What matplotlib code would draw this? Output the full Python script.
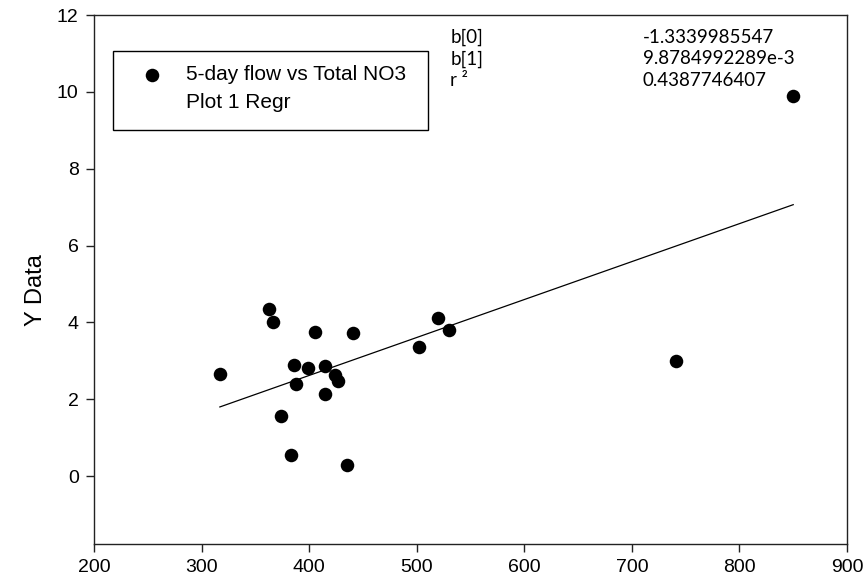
import numpy as np
import matplotlib
matplotlib.use("Agg")
import matplotlib.pyplot as plt
from matplotlib.patches import Rectangle

# 5-day flow (x) vs Total NO3 (y)
flow = [317, 363, 366, 405, 441, 386, 399, 415, 424, 427,
        388, 415, 374, 383, 435, 520, 530, 502, 741, 850]
no3 = [2.66, 4.35, 4.02, 3.75, 3.71, 2.90, 2.82, 2.86, 2.64, 2.47,
       2.40, 2.14, 1.55, 0.54, 0.29, 4.10, 3.81, 3.35, 2.99, 9.90]

# regression results shown on the chart
b0 = -1.3339985547
b1 = 9.8784992289e-3
r2 = 0.4387746407

xticks = [200, 300, 400, 500, 600, 700, 800, 900]
yticks = [0, 2, 4, 6, 8, 10, 12]

plt.rcParams['font.family'] = ['Liberation Sans', 'DejaVu Sans']

fig = plt.figure(figsize=(8.66, 5.87), dpi=100)
ax = fig.add_axes([94 / 866, 43 / 587, 753 / 866, 529 / 587])

ax.scatter(flow, no3, s=95, color='black', zorder=3, linewidths=0)

# regression line over the data range
xr = np.array([min(flow), max(flow)])
ax.plot(xr, b0 + b1 * xr, color='black', lw=0.9)

ax.set_xlim(200, 900)
ax.set_ylim(-1.77, 12)
ax.set_xticks(xticks)
ax.set_yticks(yticks)
ax.tick_params(direction='out', length=6, width=1, color='#222222',
               labelsize=14, pad=5)
for sp in ax.spines.values():
    sp.set_color('#222222')
    sp.set_linewidth(1)

ax.set_ylabel('Y Data', fontsize=17)
ax.yaxis.set_label_coords(-0.063, 0.48)

# legend box
ax.add_patch(Rectangle((0.0248, 0.7826), 0.4188, 0.1494, transform=ax.transAxes,
                       fill=False, edgecolor='black', lw=1, zorder=4))
ax.scatter([0.0765], [0.887], s=95, color='black', transform=ax.transAxes,
           clip_on=False, linewidths=0, zorder=5)
ax.text(0.122, 0.887, '5-day flow vs Total NO3', transform=ax.transAxes,
        fontsize=15, va='center', ha='left')
ax.text(0.122, 0.834, 'Plot 1 Regr', transform=ax.transAxes,
        fontsize=15, va='center', ha='left')

# regression statistics
stat_font = ['Lato', 'DejaVu Sans']
rows = [('b[0]', '%.10f' % b0), ('b[1]', '9.8784992289e-3'),
        ('r ²', '%.10f' % r2)]
for i, (name, val) in enumerate(rows):
    yy = 0.958 - i * 0.041
    ax.text(0.473, yy, name, transform=ax.transAxes, fontsize=13.5,
            va='center', ha='left', family=stat_font)
    ax.text(0.729, yy, val, transform=ax.transAxes, fontsize=13.5,
            va='center', ha='left', family=stat_font)

fig.savefig('out.png', dpi=100)
